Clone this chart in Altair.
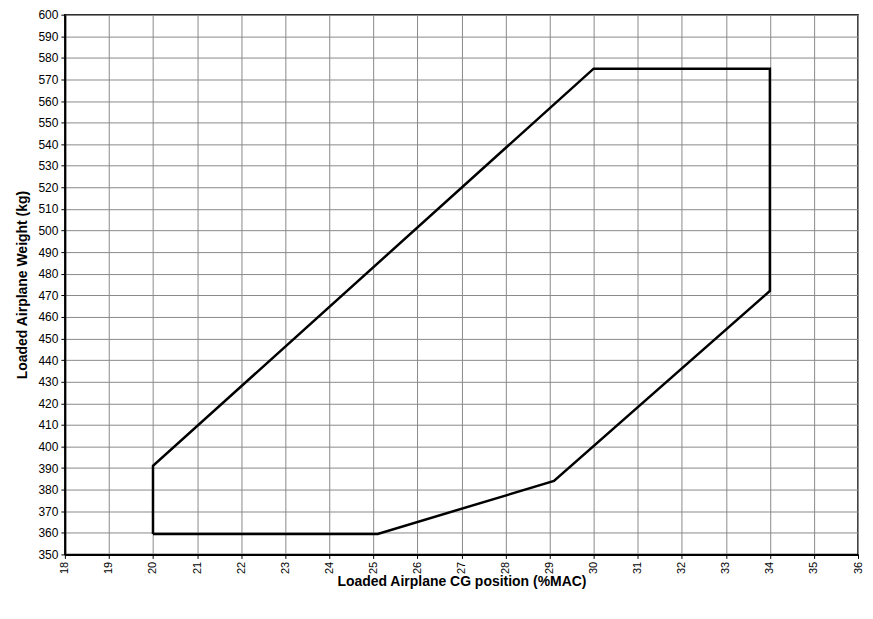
import altair as alt
import pandas as pd

cg_pct = [20.0, 20.0, 30.0, 34.0, 34.0, 29.1, 25.1, 20.0]
weight_kg = [359.5, 391.0, 575.0, 575.0, 472.0, 384.0, 359.5, 359.5]

x_ticks = list(range(18, 37))
y_ticks = list(range(350, 601, 10))

df = pd.DataFrame({"cg": cg_pct, "w": weight_kg, "order": list(range(len(cg_pct)))})

font = "Liberation Sans"

chart = alt.Chart(df).mark_line(color="black", strokeWidth=2.5).encode(
    x=alt.X("cg:Q",
            scale=alt.Scale(domain=[18, 36], nice=False, zero=False),
            axis=alt.Axis(values=x_ticks, labelAngle=270, labelAlign="right", labelBaseline="middle",
                          labelFontSize=11,
                          title="Loaded Airplane CG position (%MAC)", titlePadding=1)),
    y=alt.Y("w:Q",
            scale=alt.Scale(domain=[350, 600], nice=False, zero=False),
            axis=alt.Axis(values=y_ticks, title="Loaded Airplane Weight (kg)", titlePadding=8)),
    order="order:O",
).properties(
    width=795, height=541,
    padding={"left": 7, "top": 0, "right": 2, "bottom": 0},
).configure_view(
    stroke="black", strokeWidth=1.5
).configure_axis(
    grid=True, gridColor="#8a8a8a", gridWidth=1, gridOpacity=1,
    domainColor="black", domainWidth=2,
    tickColor="black", tickSize=4, tickWidth=1,
    labelFont=font, labelFontSize=12, labelColor="black", labelPadding=3,
    titleFont=font, titleFontSize=14, titleFontWeight="bold", titleColor="black",
)

chart.save("out.html", embed_options={"renderer": "svg", "actions": False})
